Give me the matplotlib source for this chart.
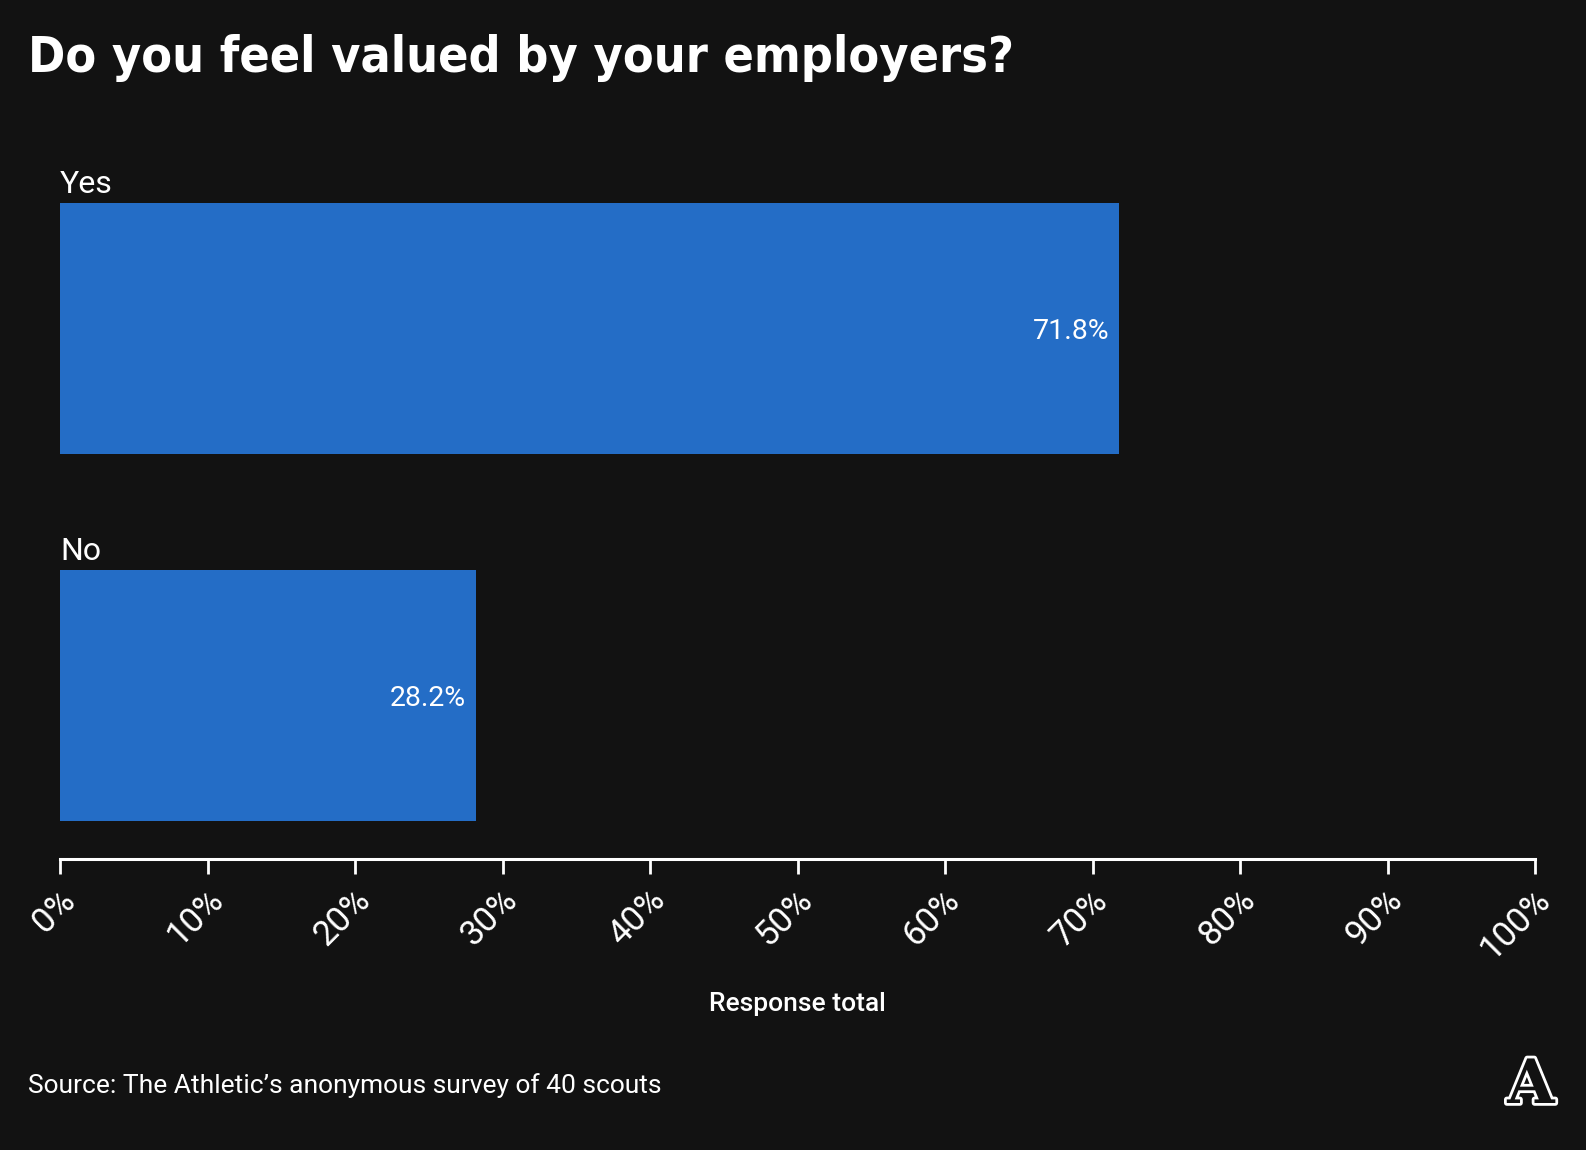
import matplotlib
matplotlib.use("Agg")
import matplotlib.pyplot as plt
import matplotlib.patheffects as pe
from matplotlib.transforms import ScaledTranslation
from matplotlib import font_manager as fm

categories = ["Yes", "No"]
values = [71.8, 28.2]
value_labels = ["71.8%", "28.2%"]
tick_values = [0, 10, 20, 30, 40, 50, 60, 70, 80, 90, 100]
tick_labels = [f"{v}%" for v in tick_values]
title = "Do you feel valued by your employers?"
xlabel = "Response total"
source = "Source: The Athletic\u2019s anonymous survey of 40 scouts"

BG = "#121212"
BAR = "#246DC6"
W, H = 1586, 1150

cond_file = fm.findfont(fm.FontProperties(family="DejaVu Sans", stretch="condensed", weight="bold"))
if "Condensed" in cond_file:
    title_kw = dict(family="DejaVu Sans", fontstretch="condensed", fontsize=36)
else:
    title_kw = dict(family=["Roboto", "DejaVu Sans"], fontsize=36)

fig = plt.figure(figsize=(W / 100, H / 100), dpi=100, facecolor=BG)

left_px, right_px = 60, 1535
top_px, bottom_px = 150, 859
ax = fig.add_axes([left_px / W, 1 - bottom_px / H, (right_px - left_px) / W, (bottom_px - top_px) / H])
ax.set_facecolor(BG)

spacing = 367.0
c0 = 328.5
bar_h = 251 / spacing
ypos = list(range(len(categories)))
ax.barh(ypos, values, height=bar_h, color=BAR)
ax.set_xlim(0, 100)
ax.set_ylim((bottom_px - c0) / spacing, (top_px - c0) / spacing)

for y, v, lab, cat in zip(ypos, values, value_labels, categories):
    ax.annotate(lab, xy=(v, y), xytext=(-7, -2), textcoords="offset points",
                ha="right", va="center", color="white", fontsize=20.5, family=["Roboto", "DejaVu Sans"])
    ax.text(0, y - 0.393, cat, ha="left", va="center", color="white", fontsize=23,
            family=["Roboto", "DejaVu Sans"])

for s in ["top", "right", "left"]:
    ax.spines[s].set_visible(False)
ax.spines["bottom"].set_color("white")
ax.spines["bottom"].set_linewidth(2.2)
ax.set_yticks([])
ax.set_xticks(tick_values)
ax.set_xticklabels(tick_labels, rotation=45, ha="right", va="center",
                   rotation_mode="anchor", color="white", fontsize=25,
                   family=["Roboto", "DejaVu Sans"])
ax.tick_params(axis="x", length=11, width=2, color="white", pad=15)
off = ScaledTranslation(10 / 100, 0, fig.dpi_scale_trans)
for lbl in ax.get_xticklabels():
    lbl.set_transform(lbl.get_transform() + off)

fig.text(797 / W, 1 - 1004 / H, xlabel, ha="center", va="center", color="white",
         fontsize=19, fontweight="medium", family=["Roboto", "DejaVu Sans"])

fig.text(28 / W, 1 - 58 / H, title, ha="left", va="center", color="white",
         fontweight="bold", **title_kw)

fig.text(28 / W, 1 - 1086 / H, source, ha="left", va="center", color="white",
         fontsize=19, family=["Roboto", "DejaVu Sans"])

logo = fig.text(1531 / W, 1 - 1086 / H, "A", ha="center", va="center", color=BG,
                fontsize=44, fontweight="bold", family=["DejaVu Serif"])
logo.set_path_effects([pe.Stroke(linewidth=4, foreground="white"), pe.Normal()])

fig.savefig("out.png", dpi=100, facecolor=BG)
